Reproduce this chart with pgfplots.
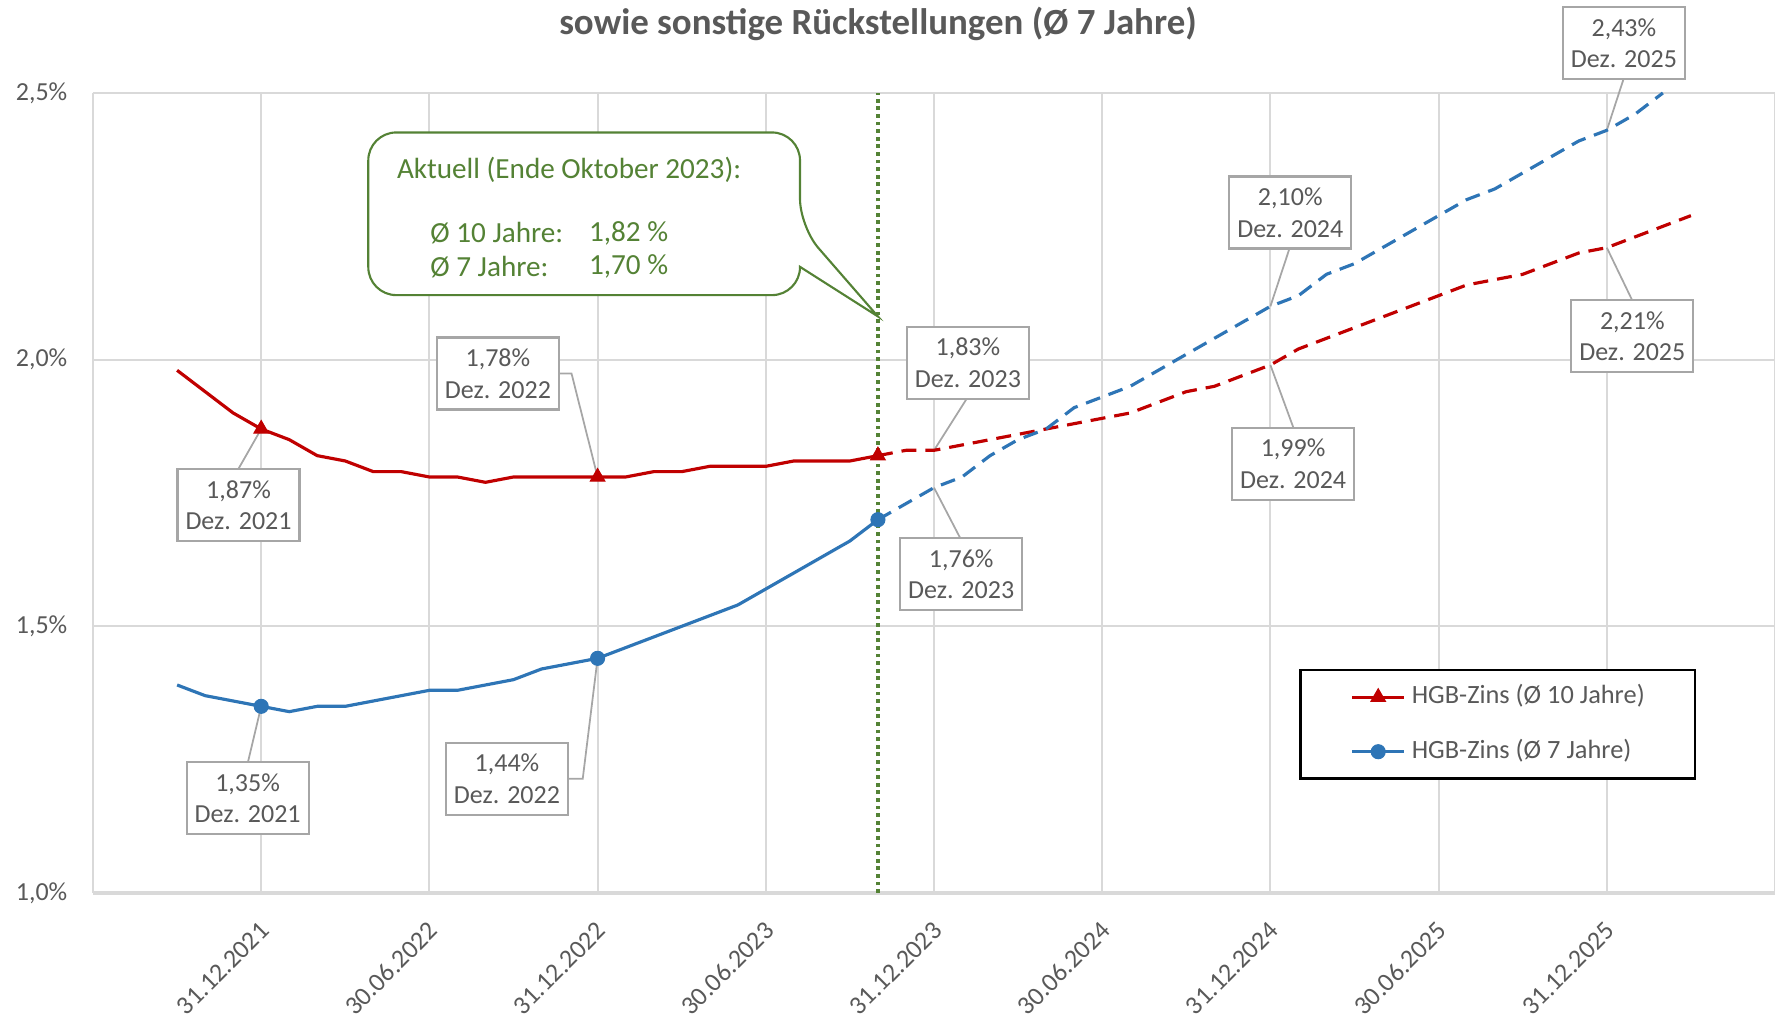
\documentclass[border=0pt]{standalone}
\usepackage{fontspec}
\setmainfont{Carlito}
\usepackage{pgfplots}
\pgfplotsset{compat=1.18}
\definecolor{cred}{HTML}{C00000}
\definecolor{cblue}{HTML}{2E75B6}
\definecolor{cgreen}{HTML}{548235}
\definecolor{ctext}{HTML}{595959}
\definecolor{cgrid}{HTML}{D9D9D9}
\definecolor{cbox}{HTML}{A6A6A6}
\tikzset{lbl/.style={draw=cbox, line width=0.6pt, fill=white, text=ctext,
  font=\fontsize{7.4}{9}\selectfont, align=center, minimum width=1.22cm,
  minimum height=0.72cm, inner sep=0pt},
  ldr/.style={cbox, line width=0.5pt}}
\begin{document}
\begin{tikzpicture}
\begin{axis}[
  at={(0,0)}, anchor=south west,
  scale only axis, width=16.82cm, height=8cm,
  xmin=-6, xmax=54, ymin=1.0, ymax=2.5,
  clip=false,
  axis line style={draw=none},
  major tick length=0pt,
  xtick={-6,0,...,54},
  xticklabels={,31.12.2021,30.06.2022,31.12.2022,30.06.2023,31.12.2023,30.06.2024,31.12.2024,30.06.2025,31.12.2025,},
  ytick={1.0,1.5,2.0,2.5},
  yticklabels={1{,}0\%,1{,}5\%,2{,}0\%,2{,}5\%},
  grid=major,
  major grid style={cgrid, line width=0.6pt},
  ticklabel style={font=\fontsize{7.4}{9}\selectfont, text=ctext},
  xticklabel style={xshift=0.04cm, yshift=-0.33cm, rotate=45, anchor=east, inner sep=0pt},
  yticklabel style={anchor=east, inner sep=0pt, xshift=-0.25cm},
  legend style={at={(0.953,0.28)}, anchor=north east, draw=black, line width=0.7pt,
    fill=white, inner xsep=0.5cm, inner ysep=0.145cm, row sep=0.295cm, column sep=0.06cm,
    font=\fontsize{7.5}{9}\selectfont, text=ctext,
    nodes={inner sep=0pt, text height=0.19cm, text depth=0.06cm}},
  legend cell align=left,
  legend image code/.code={\draw[mark repeat=2,mark phase=2,#1] plot coordinates {(0cm,0cm) (0.26cm,0cm) (0.52cm,0cm)};},
]
% bottom axis line
\draw[cgrid, line width=0.9pt] (rel axis cs:0,0) -- (rel axis cs:1,0);
% vertical marker (Ende Oktober 2023)
\addplot[cgreen, line width=0.95pt, dash pattern=on 0.38mm off 0.38mm, forget plot] coordinates {(22,1.0) (22,2.5)};

% leader lines
\draw[ldr] (axis cs:0,1.87) -- (axis cs:-0.808,1.7956);
\draw[ldr] (axis cs:10.626,1.974) -- (axis cs:11.07,1.974) -- (axis cs:12,1.78);
\draw[ldr] (axis cs:25.17,1.927) -- (axis cs:24,1.83);
\draw[ldr] (axis cs:24,1.76) -- (axis cs:24.93,1.666);
\draw[ldr] (axis cs:36.69,2.21) -- (axis cs:36,2.10);
\draw[ldr] (axis cs:36,1.99) -- (axis cs:36.83,1.871);
\draw[ldr] (axis cs:48.59,2.525) -- (axis cs:48,2.43);
\draw[ldr] (axis cs:48,2.21) -- (axis cs:48.9,2.112);
\draw[ldr] (axis cs:0,1.35) -- (axis cs:-0.47,1.246);
\draw[ldr] (axis cs:10.95,1.2143) -- (axis cs:11.47,1.2143) -- (axis cs:12,1.44);

% HGB-Zins 10 Jahre
\addplot[cred, line width=0.9pt, forget plot] coordinates {
(-3,1.98) (-2,1.94) (-1,1.90) (0,1.87) (1,1.85) (2,1.82) (3,1.81) (4,1.79) (5,1.79)
(6,1.78) (7,1.78) (8,1.77) (9,1.78) (10,1.78) (11,1.78) (12,1.78) (13,1.78) (14,1.79)
(15,1.79) (16,1.80) (17,1.80) (18,1.80) (19,1.81) (20,1.81) (21,1.81) (22,1.82)};
\addplot[cred, line width=0.9pt, dash pattern=on 1.5mm off 0.9mm, forget plot] coordinates {
(22,1.82) (23,1.83) (24,1.83) (25,1.84) (26,1.85) (27,1.86) (28,1.87) (29,1.88) (30,1.89)
(31,1.90) (32,1.92) (33,1.94) (34,1.95) (35,1.97) (36,1.99) (37,2.02) (38,2.04) (39,2.06)
(40,2.08) (41,2.10) (42,2.12) (43,2.14) (44,2.15) (45,2.16) (46,2.18) (47,2.20) (48,2.21)
(49,2.23) (50,2.25) (51,2.27)};
% HGB-Zins 7 Jahre
\addplot[cblue, line width=0.9pt, forget plot] coordinates {
(-3,1.39) (-2,1.37) (-1,1.36) (0,1.35) (1,1.34) (2,1.35) (3,1.35) (4,1.36) (5,1.37)
(6,1.38) (7,1.38) (8,1.39) (9,1.40) (10,1.42) (11,1.43) (12,1.44) (13,1.46) (14,1.48)
(15,1.50) (16,1.52) (17,1.54) (18,1.57) (19,1.60) (20,1.63) (21,1.66) (22,1.70)};
\addplot[cblue, line width=0.9pt, dash pattern=on 1.5mm off 0.9mm, forget plot] coordinates {
(22,1.70) (23,1.73) (24,1.76) (25,1.78) (26,1.82) (27,1.85) (28,1.87) (29,1.91) (30,1.93)
(31,1.95) (32,1.98) (33,2.01) (34,2.04) (35,2.07) (36,2.10) (37,2.12) (38,2.16) (39,2.18)
(40,2.21) (41,2.24) (42,2.27) (43,2.30) (44,2.32) (45,2.35) (46,2.38) (47,2.41) (48,2.43)
(49,2.46) (50,2.50)};
% markers
\addplot[cred, only marks, mark=triangle*, mark size=2.4pt, mark options={solid, line width=0.3pt}, forget plot]
  coordinates {(0,1.87) (12,1.78) (22,1.82)};
\addplot[cblue, only marks, mark=*, mark size=2pt, mark options={solid, line width=0.3pt}, forget plot]
  coordinates {(0,1.35) (12,1.44) (22,1.70)};

\addlegendimage{cred, line width=0.9pt, mark=triangle*, mark size=2.4pt, mark options={solid, line width=0.3pt}}
\addlegendentry{HGB-Zins (Ø 10 Jahre)}
\addlegendimage{cblue, line width=0.9pt, mark=*, mark size=2pt, mark options={solid, line width=0.3pt}}
\addlegendentry{HGB-Zins (Ø 7 Jahre)}

% data labels
\node[lbl] at (axis cs:-0.808,1.727) {1,87\%\\Dez. 2021};
\node[lbl] at (axis cs:8.444,1.974) {1,78\%\\Dez. 2022};
\node[lbl] at (axis cs:25.21,1.994) {1,83\%\\Dez. 2023};
\node[lbl] at (axis cs:24.97,1.598) {1,76\%\\Dez. 2023};
\node[lbl] at (axis cs:36.71,2.276) {2,10\%\\Dez. 2024};
\node[lbl] at (axis cs:36.81,1.805) {1,99\%\\Dez. 2024};
\node[lbl] at (axis cs:48.61,2.593) {2,43\%\\Dez. 2025};
\node[lbl] at (axis cs:48.91,2.044) {2,21\%\\Dez. 2025};
\node[lbl] at (axis cs:-0.485,1.178) {1,35\%\\Dez. 2021};
\node[lbl] at (axis cs:8.768,1.2143) {1,44\%\\Dez. 2022};

% callout
\draw[cgreen, line width=0.6pt, fill=white, rounded corners=0.28cm]
  (axis cs:3.82,2.426) -- (axis cs:19.22,2.426) -- (axis cs:19.22,2.249) [sharp corners]
  -- (axis cs:22,2.081) -- (axis cs:19.22,2.174) [rounded corners=0.28cm]
  -- (axis cs:19.22,2.121) -- (axis cs:3.82,2.121) -- cycle;
\begin{scope}[every node/.style={anchor=west, inner sep=0pt, text=cgreen, font=\fontsize{8.3}{10}\selectfont}]
\node at (axis cs:4.82,2.356) {Aktuell (Ende Oktober 2023):};
\node at (axis cs:6.01,2.237) {Ø 10 Jahre:};
\node at (axis cs:11.67,2.237) {1,82 \%};
\node at (axis cs:6.01,2.174) {Ø 7 Jahre:};
\node at (axis cs:11.67,2.174) {1,70 \%};
\end{scope}
\end{axis}
\node[font=\bfseries\fontsize{10.5}{12}\selectfont, text=ctext] at (7.85,8.69) {sowie sonstige Rückstellungen (Ø 7 Jahre)};
\pgfresetboundingbox
\path[use as bounding box] (-0.93,-1.24) rectangle (16.82,8.93);
\end{tikzpicture}
\end{document}
